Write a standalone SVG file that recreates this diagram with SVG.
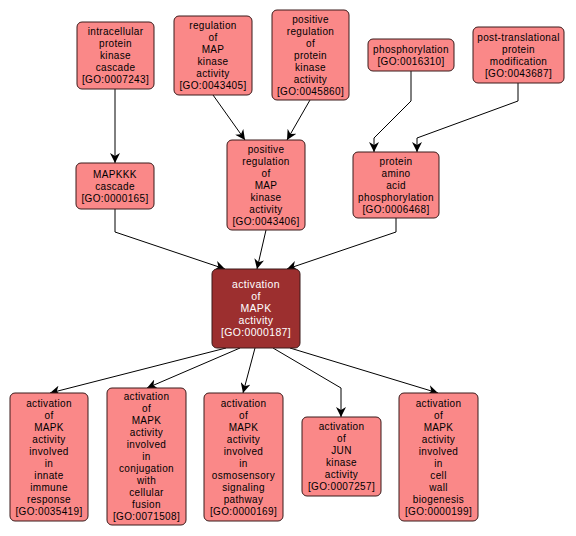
<svg xmlns="http://www.w3.org/2000/svg" width="576" height="536" viewBox="0 0 576 536">
<style>
.n rect{fill:#fa8888;stroke:#3a1a1a;stroke-width:1}
.c rect{fill:#9c2f2f;stroke:#3a1a1a;stroke-width:1}
text{font-family:"Liberation Sans",Arial,sans-serif;font-size:10px;letter-spacing:0.35px;text-anchor:middle;fill:#000}
.c text{fill:#fff;font-size:10.5px}
.e path{fill:none;stroke:#000;stroke-width:1;marker-end:url(#a)}
</style>
<defs>
<marker id="a" viewBox="0 0 10 10" refX="10" refY="5" markerWidth="10" markerHeight="10" markerUnits="userSpaceOnUse" orient="auto">
<path d="M0,0 L10,5 L0,10 L3,5 z" fill="#000"/>
</marker>
</defs>
<rect width="576" height="536" fill="#fff"/>
<g class="e">
<path d="M115,89 L115,163"/>
<path d="M213,95 L245,140"/>
<path d="M310,100 L287,140"/>
<path d="M411,71 L411,101 L374,138 L374,152"/>
<path d="M518,83 L518,101 L417,138 L417,152"/>
<path d="M115,209 L115,232 L225,269"/>
<path d="M266,230 L257,269"/>
<path d="M396,218 L396,232 L287,269"/>
<path d="M226,348 L50,393"/>
<path d="M240,348 L147,388"/>
<path d="M255,348 L243,393"/>
<path d="M273,348 L341,388 L341,417"/>
<path d="M290,348 L438,393"/>
</g>
<g id="GO0007243" class="n"><rect x="77" y="22" width="77" height="67" rx="5"/><text x="115.5" y="35"><tspan x="115.5">intracellular</tspan><tspan x="115.5" dy="12">protein</tspan><tspan x="115.5" dy="12">kinase</tspan><tspan x="115.5" dy="12">cascade</tspan><tspan x="115.5" dy="12">[GO:0007243]</tspan></text></g>
<g id="GO0043405" class="n"><rect x="174" y="16" width="78" height="79" rx="5"/><text x="213" y="29"><tspan x="213">regulation</tspan><tspan x="213" dy="12">of</tspan><tspan x="213" dy="12">MAP</tspan><tspan x="213" dy="12">kinase</tspan><tspan x="213" dy="12">activity</tspan><tspan x="213" dy="12">[GO:0043405]</tspan></text></g>
<g id="GO0045860" class="n"><rect x="272" y="10" width="77" height="90" rx="5"/><text x="310.5" y="22.5"><tspan x="310.5">positive</tspan><tspan x="310.5" dy="12">regulation</tspan><tspan x="310.5" dy="12">of</tspan><tspan x="310.5" dy="12">protein</tspan><tspan x="310.5" dy="12">kinase</tspan><tspan x="310.5" dy="12">activity</tspan><tspan x="310.5" dy="12">[GO:0045860]</tspan></text></g>
<g id="GO0016310" class="n"><rect x="368" y="39" width="86" height="32" rx="5"/><text x="411" y="52.5"><tspan x="411">phosphorylation</tspan><tspan x="411" dy="12">[GO:0016310]</tspan></text></g>
<g id="GO0043687" class="n"><rect x="473" y="27" width="91" height="56" rx="5"/><text x="518.5" y="40.5"><tspan x="518.5">post-translational</tspan><tspan x="518.5" dy="12">protein</tspan><tspan x="518.5" dy="12">modification</tspan><tspan x="518.5" dy="12">[GO:0043687]</tspan></text></g>
<g id="GO0000165" class="n"><rect x="76" y="163" width="78" height="46" rx="5"/><text x="115" y="177.5"><tspan x="115">MAPKKK</tspan><tspan x="115" dy="12">cascade</tspan><tspan x="115" dy="12">[GO:0000165]</tspan></text></g>
<g id="GO0043406" class="n"><rect x="227" y="140" width="78" height="90" rx="5"/><text x="266" y="152.5"><tspan x="266">positive</tspan><tspan x="266" dy="12">regulation</tspan><tspan x="266" dy="12">of</tspan><tspan x="266" dy="12">MAP</tspan><tspan x="266" dy="12">kinase</tspan><tspan x="266" dy="12">activity</tspan><tspan x="266" dy="12">[GO:0043406]</tspan></text></g>
<g id="GO0006468" class="n"><rect x="353" y="152" width="86" height="66" rx="5"/><text x="396" y="164.5"><tspan x="396">protein</tspan><tspan x="396" dy="12">amino</tspan><tspan x="396" dy="12">acid</tspan><tspan x="396" dy="12">phosphorylation</tspan><tspan x="396" dy="12">[GO:0006468]</tspan></text></g>
<g id="GO0000187" class="c"><rect x="212" y="269" width="88" height="79" rx="5"/><text x="256" y="288"><tspan x="256">activation</tspan><tspan x="256" dy="12">of</tspan><tspan x="256" dy="12">MAPK</tspan><tspan x="256" dy="12">activity</tspan><tspan x="256" dy="12">[GO:0000187]</tspan></text></g>
<g id="GO0035419" class="n"><rect x="10" y="393" width="78" height="128" rx="5"/><text x="49" y="407"><tspan x="49">activation</tspan><tspan x="49" dy="12">of</tspan><tspan x="49" dy="12">MAPK</tspan><tspan x="49" dy="12">activity</tspan><tspan x="49" dy="12">involved</tspan><tspan x="49" dy="12">in</tspan><tspan x="49" dy="12">innate</tspan><tspan x="49" dy="12">immune</tspan><tspan x="49" dy="12">response</tspan><tspan x="49" dy="12">[GO:0035419]</tspan></text></g>
<g id="GO0071508" class="n"><rect x="107" y="388" width="79" height="137" rx="5"/><text x="146.5" y="400"><tspan x="146.5">activation</tspan><tspan x="146.5" dy="12">of</tspan><tspan x="146.5" dy="12">MAPK</tspan><tspan x="146.5" dy="12">activity</tspan><tspan x="146.5" dy="12">involved</tspan><tspan x="146.5" dy="12">in</tspan><tspan x="146.5" dy="12">conjugation</tspan><tspan x="146.5" dy="12">with</tspan><tspan x="146.5" dy="12">cellular</tspan><tspan x="146.5" dy="12">fusion</tspan><tspan x="146.5" dy="12">[GO:0071508]</tspan></text></g>
<g id="GO0000169" class="n"><rect x="204" y="393" width="79" height="128" rx="5"/><text x="243.5" y="407"><tspan x="243.5">activation</tspan><tspan x="243.5" dy="12">of</tspan><tspan x="243.5" dy="12">MAPK</tspan><tspan x="243.5" dy="12">activity</tspan><tspan x="243.5" dy="12">involved</tspan><tspan x="243.5" dy="12">in</tspan><tspan x="243.5" dy="12">osmosensory</tspan><tspan x="243.5" dy="12">signaling</tspan><tspan x="243.5" dy="12">pathway</tspan><tspan x="243.5" dy="12">[GO:0000169]</tspan></text></g>
<g id="GO0007257" class="n"><rect x="302" y="417" width="79" height="79" rx="5"/><text x="341.5" y="430"><tspan x="341.5">activation</tspan><tspan x="341.5" dy="12">of</tspan><tspan x="341.5" dy="12">JUN</tspan><tspan x="341.5" dy="12">kinase</tspan><tspan x="341.5" dy="12">activity</tspan><tspan x="341.5" dy="12">[GO:0007257]</tspan></text></g>
<g id="GO0000199" class="n"><rect x="399" y="393" width="79" height="128" rx="5"/><text x="438.5" y="407"><tspan x="438.5">activation</tspan><tspan x="438.5" dy="12">of</tspan><tspan x="438.5" dy="12">MAPK</tspan><tspan x="438.5" dy="12">activity</tspan><tspan x="438.5" dy="12">involved</tspan><tspan x="438.5" dy="12">in</tspan><tspan x="438.5" dy="12">cell</tspan><tspan x="438.5" dy="12">wall</tspan><tspan x="438.5" dy="12">biogenesis</tspan><tspan x="438.5" dy="12">[GO:0000199]</tspan></text></g>
</svg>
